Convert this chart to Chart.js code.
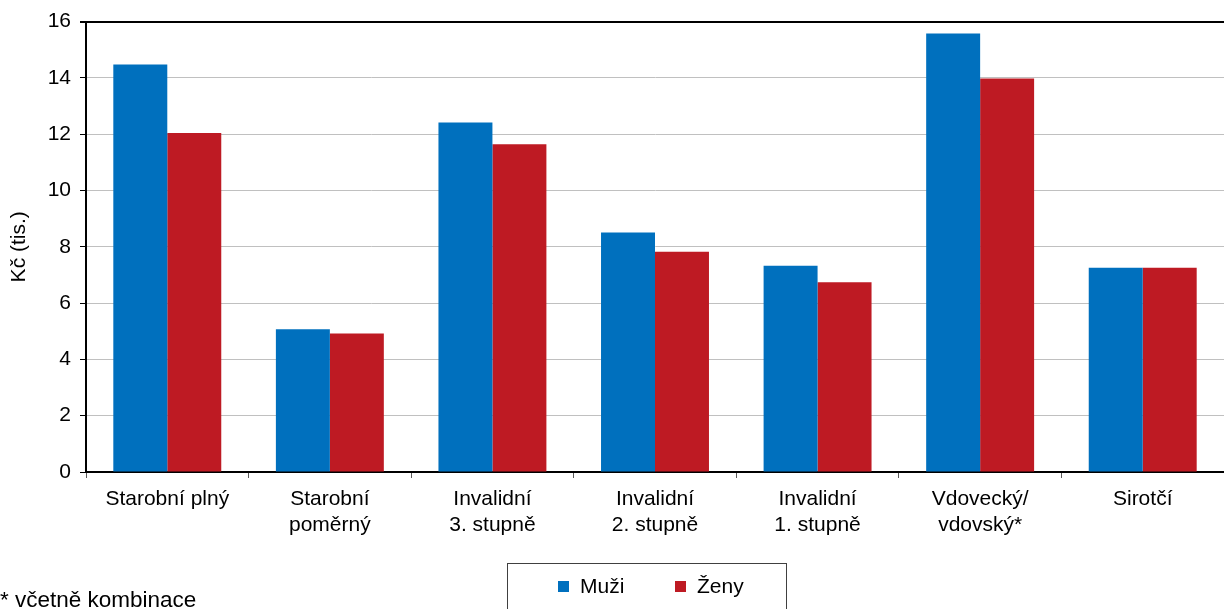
<!DOCTYPE html>
<html>
<head>
<meta charset="utf-8">
<script src="https://cdn.jsdelivr.net/npm/chart.js@4"></script>
<style>
  html, body { margin: 0; padding: 0; background: #fff; }
  #wrap { width: 1224px; height: 609px; position: relative; }
</style>
</head>
<body>
<div id="wrap"><canvas id="duchody"></canvas></div>
<script>
// data
const kategorie = [
    'Starobní plný',
    ['Starobní', 'poměrný'],
    ['Invalidní', '3. stupně'],
    ['Invalidní', '2. stupně'],
    ['Invalidní', '1. stupně'],
    ['Vdovecký/', 'vdovský*'],
    'Sirotčí'
];
const muzi = [14.48, 5.07, 12.42, 8.51, 7.33, 15.58, 7.26];
const zeny = [12.04, 4.92, 11.64, 7.82, 6.74, 13.98, 7.26];
const nazvySerii = ['Muži', 'Ženy'];
const osaY = { min: 0, max: 16, krok: 2 };
const poznamka = '* včetně kombinace';

const FONT = '"Liberation Sans", Arial, sans-serif';
const VELIKOST = 21;
Chart.defaults.font.family = FONT;
Chart.defaults.font.size = VELIKOST;
Chart.defaults.color = '#000';

// legenda v rámečku + poznámka pod grafem
const legendaPlugin = {
    id: 'legendaBox',
    afterDraw(chart) {
        const ctx = chart.ctx;
        ctx.save();
        ctx.strokeStyle = '#404040';
        ctx.lineWidth = 1;
        ctx.strokeRect(507.5, 563.5, 279, 60);

        ctx.font = VELIKOST + 'px ' + FONT;
        ctx.textBaseline = 'middle';
        ctx.textAlign = 'left';
        const pozice = [558, 675];
        chart.data.datasets.forEach(function(ds, i) {
            const x = pozice[i];
            ctx.fillStyle = ds.backgroundColor;
            ctx.fillRect(x, 581, 11, 11);
            ctx.fillStyle = '#000';
            ctx.fillText(ds.label, x + 22, 587);
        });

        ctx.font = '22.5px ' + FONT;
        ctx.textBaseline = 'alphabetic';
        ctx.fillText(poznamka, 0, 607);
        ctx.restore();
    }
};

const ctx = document.getElementById('duchody').getContext('2d');
new Chart(ctx, {
    type: 'bar',
    data: {
        labels: kategorie,
        datasets: [
            {
                label: nazvySerii[0],
                data: muzi,
                backgroundColor: '#0070BE',
                categoryPercentage: 0.664,
                barPercentage: 1.0
            },
            {
                label: nazvySerii[1],
                data: zeny,
                backgroundColor: '#BE1A23',
                categoryPercentage: 0.664,
                barPercentage: 1.0
            }
        ]
    },
    options: {
        responsive: true,
        maintainAspectRatio: false,
        animation: false,
        layout: {
            padding: { top: 19, right: 0, bottom: 0, left: 0 }
        },
        plugins: {
            legend: { display: false },
            tooltip: { enabled: false }
        },
        scales: {
            x: {
                afterFit: function(scale) { scale.height = 137; },
                border: { color: '#000', width: 2 },
                grid: {
                    offset: true,
                    drawOnChartArea: false,
                    drawTicks: true,
                    tickLength: 6,
                    color: '#595959'
                },
                ticks: {
                    padding: 9,
                    maxRotation: 0,
                    autoSkip: false,
                    font: { size: VELIKOST, lineHeight: 1.2 }
                }
            },
            y: {
                min: osaY.min,
                max: osaY.max,
                afterFit: function(scale) { scale.width = 86; },
                border: { color: '#000', width: 2 },
                grid: {
                    color: function(c) { return c.tick.value === osaY.max ? '#000' : '#C0C0C0'; },
                    lineWidth: function(c) { return c.tick.value === osaY.max ? 2 : 1; },
                    tickColor: '#000',
                    tickLength: 6
                },
                ticks: {
                    stepSize: osaY.krok,
                    padding: 9,
                    font: { size: VELIKOST }
                },
                title: {
                    display: true,
                    text: 'Kč (tis.)',
                    padding: { top: 7, bottom: 10 },
                    font: { size: VELIKOST }
                }
            }
        }
    },
    plugins: [legendaPlugin]
});
</script>
</body>
</html>
